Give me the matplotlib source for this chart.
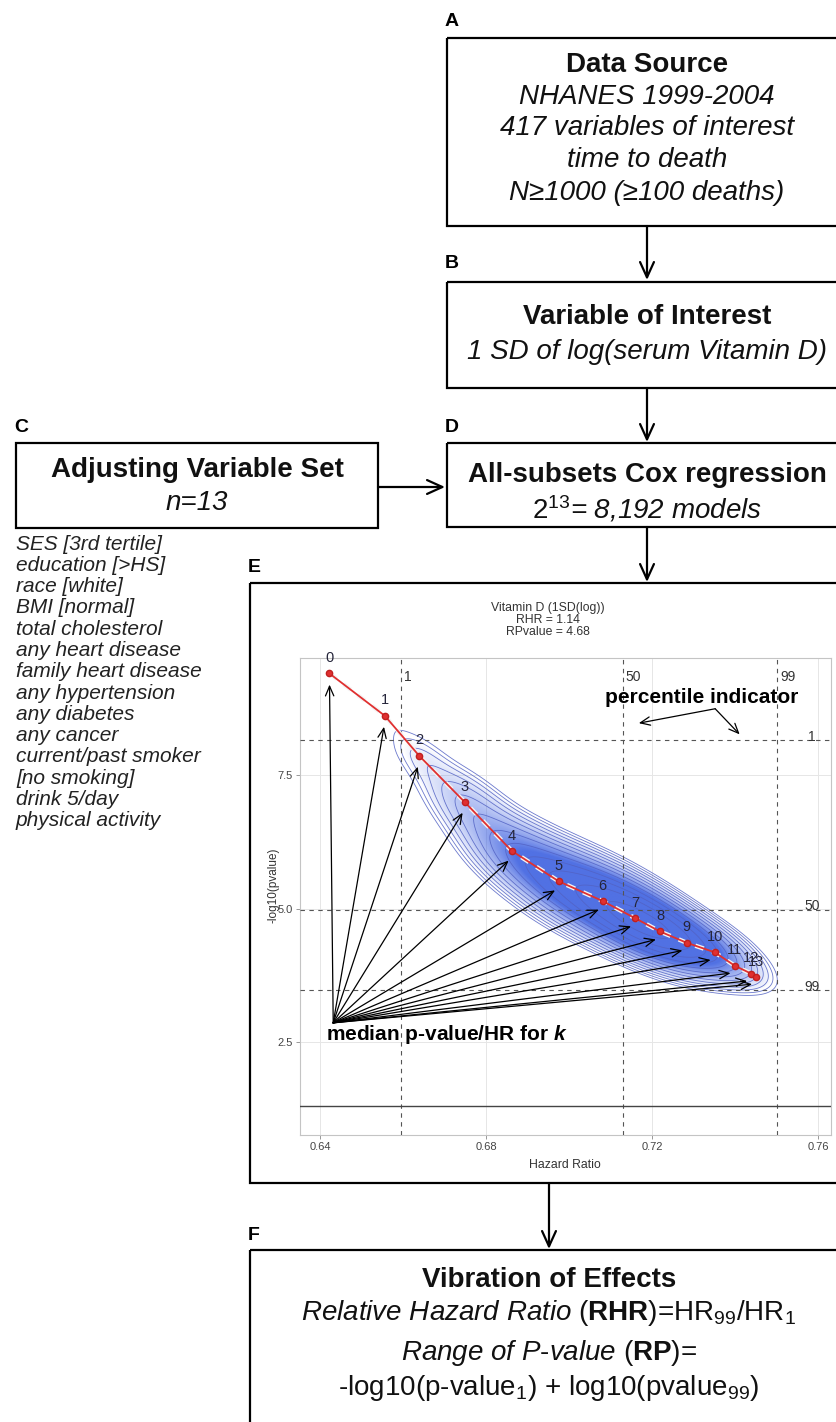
import numpy as np
import matplotlib
matplotlib.use("Agg")
import matplotlib.pyplot as plt
from matplotlib.patches import Rectangle
from matplotlib.transforms import ScaledTranslation
from matplotlib.colors import to_rgb

plt.rcParams['font.family'] = ['Liberation Sans', 'DejaVu Sans']
plt.rcParams['mathtext.fontset'] = 'custom'
plt.rcParams['mathtext.rm'] = 'Liberation Sans'
plt.rcParams['mathtext.it'] = 'Liberation Sans:italic'
plt.rcParams['mathtext.bf'] = 'Liberation Sans:bold'
if 'mathtext.bfit' in plt.rcParams:
    plt.rcParams['mathtext.bfit'] = 'Liberation Sans:italic:bold'

# ---- data for panel E ----
k_vals = list(range(14))
models_per_k = [1, 13, 78, 286, 715, 1287, 1716, 1716, 1287, 715, 286, 78, 13, 1]
median_hr = [0.6423, 0.6556, 0.6639, 0.6749, 0.6862, 0.6975, 0.7081,
             0.7159, 0.7219, 0.7283, 0.7351, 0.7399, 0.7439, 0.7451]
median_logp = [9.40, 8.61, 7.86, 6.99, 6.08, 5.51, 5.14,
               4.82, 4.57, 4.36, 4.18, 3.93, 3.78, 3.72]
# spread of the models around each median
sd_hr = [0.0, 0.004, 0.0052, 0.0065, 0.0075, 0.0078, 0.0078,
         0.0075, 0.0072, 0.0068, 0.0064, 0.006, 0.0055, 0.005]
sd_logp = [0.0, 0.28, 0.36, 0.44, 0.48, 0.48, 0.46,
           0.43, 0.40, 0.37, 0.34, 0.31, 0.28, 0.25]
hr_logp_corr = -0.55

pct_labels = ['1', '50', '99']
pct_hr = [0.6595, 0.7129, 0.7502]
pct_logp = [8.15, 4.98, 3.47]
signif_logp = 1.30

x_ticks = [0.64, 0.68, 0.72, 0.76]
x_ticklabels = ['0.64', '0.68', '0.72', '0.76']
y_ticks = [2.5, 5.0, 7.5]
y_ticklabels = ['2.5', '5.0', '7.5']

title_lines = ['Vitamin D (1SD(log))', 'RHR = 1.14', 'RPvalue = 4.68']

adjusters = ['SES [3rd tertile]', 'education [>HS]', 'race [white]', 'BMI [normal]',
             'total cholesterol', 'any heart disease', 'family heart disease',
             'any hypertension', 'any diabetes', 'any cancer', 'current/past smoker',
             '[no smoking]', 'drink 5/day', 'physical activity']

W, H = 836, 1422
fig = plt.figure(figsize=(W / 100, H / 100), dpi=100)
fig.patch.set_facecolor('white')

# ---- flowchart layer (pixel coordinates) ----
ax0 = fig.add_axes([0, 0, 1, 1])
ax0.set_xlim(0, W)
ax0.set_ylim(H, 0)
ax0.axis('off')

def box(x, y, w, h):
    ax0.add_patch(Rectangle((x, y), w, h, fill=False, lw=1.6, ec='black'))

def flow_arrow(x0, y0, x1, y1):
    ax0.annotate('', xy=(x1, y1), xytext=(x0, y0),
                 arrowprops=dict(arrowstyle='->,head_length=1.1,head_width=0.5',
                                 lw=1.6, color='black', shrinkA=0, shrinkB=0,
                                 mutation_scale=10))

def panel_letter(x, y, s):
    ax0.text(x, y, s, fontsize=14, fontweight='bold', ha='left', va='center')

txt = dict(ha='center', va='center', fontsize=20, color='#111111')

# A
panel_letter(445, 22, 'A')
box(447, 38, 400, 188)
ax0.text(647, 65, 'Data Source', fontweight='bold', **txt)
ax0.text(647, 97, 'NHANES 1999-2004', style='italic', **txt)
ax0.text(647, 128, '417 variables of interest', style='italic', **txt)
ax0.text(647, 160, 'time to death', style='italic', **txt)
ax0.text(647, 193, 'N≥1000 (≥100 deaths)', style='italic', **txt)
flow_arrow(647, 226, 647, 280)

# B
panel_letter(445, 263, 'B')
box(447, 282, 400, 106)
ax0.text(647, 317, 'Variable of Interest', fontweight='bold', **txt)
ax0.text(647, 352, '1 SD of log(serum Vitamin D)', style='italic', **txt)
flow_arrow(647, 388, 647, 442)

# D
panel_letter(445, 428, 'D')
box(447, 443, 400, 84)
ax0.text(647, 475, 'All-subsets Cox regression', fontweight='bold', **txt)
ax0.text(647, 509, r'$\mathit{2}^{\mathit{13}}$= 8,192 models', style='italic', **txt)
flow_arrow(647, 527, 647, 582)

# C
panel_letter(14, 428, 'C')
box(16, 443, 362, 85)
ax0.text(197, 470, 'Adjusting Variable Set', fontweight='bold', **txt)
ax0.text(197, 503, 'n=13', style='italic', **txt)
flow_arrow(378, 487, 445, 487)
for i, name in enumerate(adjusters):
    ax0.text(16, 544 + i * 21.3, name, style='italic', fontsize=15,
             ha='left', va='center', color='#222222')

# E
panel_letter(248, 568, 'E')
box(250, 583, 600, 600)
for i, line in enumerate(title_lines):
    ax0.text(548, 608 + i * 12, line, ha='center', va='center', fontsize=8.8, color='#333333')
ax0.text(273, 885, '-log10(pvalue)', rotation=90, ha='center', va='center',
         fontsize=8.5, color='#333333')
ax0.text(565, 1165, 'Hazard Ratio', ha='center', va='center', fontsize=8.8, color='#333333')
flow_arrow(549, 1183, 549, 1249)

# F
panel_letter(248, 1235, 'F')
box(250, 1250, 600, 200)
ax0.text(549, 1280, 'Vibration of Effects', fontweight='bold', **txt)
ax0.text(549, 1313, r'$\mathit{Relative\ Hazard\ Ratio}$ ($\mathbf{RHR}$)=HR$_{99}$/HR$_{1}$', **txt)
ax0.text(549, 1353, r'$\mathit{Range\ of\ P}$$\mathit{\text{-}value}$ ($\mathbf{RP}$)=', **txt)
ax0.text(549, 1388, r'-log10(p-value$_{1}$) + log10(pvalue$_{99}$)', **txt)

# ---- panel E: vibration plot ----
ax = fig.add_axes([300 / W, 1 - 1135 / H, 531 / W, 477 / H])
ax.set_facecolor('white')
xlo, xhi, ylo, yhi = 0.6352, 0.7631, 0.76, 9.69
ax.set_xlim(xlo, xhi)
ax.set_ylim(ylo, yhi)
ax.set_xticks(x_ticks)
ax.set_xticklabels(x_ticklabels)
ax.set_yticks(y_ticks)
ax.set_yticklabels(y_ticklabels)
ax.grid(color='#e6e6e6', lw=0.7)
ax.set_axisbelow(True)
for s in ax.spines.values():
    s.set_color('#c4c4c4')
    s.set_linewidth(0.8)
ax.tick_params(length=3, width=0.6, color='#888888', labelsize=8, labelcolor='#444444', pad=2)

# density of the 8,192 models
gx = np.linspace(xlo, xhi, 420)
gy = np.linspace(ylo, yhi, 420)
X, Y = np.meshgrid(gx, gy)
dens = np.zeros_like(X)
r = hr_logp_corr
for w, mx, my, sx, sy in zip(models_per_k, median_hr, median_logp, sd_hr, sd_logp):
    if sx == 0:
        continue
    u = (X - mx) / sx
    v = (Y - my) / sy
    q = (u * u - 2 * r * u * v + v * v) / (1 - r * r)
    dens += w / (sx * sy) * np.exp(-0.5 * q)
frac = dens / dens.max()

rgba = np.zeros(X.shape + (4,))
rgba[..., :3] = to_rgb('#3b5fe0')
rgba[..., 3] = np.clip((frac - 0.03) * 3.2, 0, 0.85) ** 0.7
ax.imshow(rgba, extent=[xlo, xhi, ylo, yhi], origin='lower', aspect='auto',
          interpolation='bilinear', zorder=1)
ax.contour(X, Y, dens, levels=dens.max() * np.geomspace(0.02, 0.85, 13),
           colors='#5262c4', linewidths=0.6, alpha=0.85, zorder=2)

# percentile reference lines
for v in pct_hr:
    ax.axvline(v, color='#555555', lw=0.8, ls=(0, (4, 4)), zorder=3)
for v in pct_logp:
    ax.axhline(v, color='#555555', lw=0.8, ls=(0, (4, 4)), zorder=3)
ax.axhline(signif_logp, color='#444444', lw=1.0, zorder=3)
for lab, v in zip(pct_labels, pct_hr):
    ax.text(v + 0.0008, 9.33, lab, ha='left', va='center', fontsize=10, color='#333333', zorder=6)
for lab, v in zip(pct_labels, pct_logp):
    ax.text(0.7585, v + 0.06, lab, ha='center', va='center', fontsize=10, color='#333333', zorder=6)

# median trajectory
ax.plot(median_hr, median_logp, color='#f4f4f4', lw=3.2, ls=(0, (2, 2)), zorder=4)
ax.plot(median_hr, median_logp, color='#e03030', lw=1.3, marker='o', ms=4.5,
        mfc='#e03030', mec='#c02020', zorder=5)
for k, hr, lp in zip(k_vals, median_hr, median_logp):
    ax.annotate(str(k), (hr, lp), xytext=(0, 11), textcoords='offset points',
                ha='center', va='center', fontsize=10.5, color='#25253a', zorder=6,
                annotation_clip=False)

# fan of arrows to the medians
fan_hr, fan_logp = 0.6432, 2.86
tip = ax.transData + ScaledTranslation(0, -5 / 72, fig.dpi_scale_trans)
for hr, lp in zip(median_hr, median_logp):
    ax.annotate('', xy=(hr, lp), xycoords=tip, xytext=(fan_hr, fan_logp), textcoords='data',
                arrowprops=dict(arrowstyle='->,head_length=0.7,head_width=0.3', lw=0.9,
                                color='black', shrinkA=0, shrinkB=3), zorder=7)
ax.text(0.6414, 2.64, r'median p-value/HR for $\mathbfit{k}$', fontsize=15,
        fontweight='bold', ha='left', va='center', zorder=8)

# percentile indicator
ax.text(0.7320, 8.95, 'percentile indicator', fontsize=15, fontweight='bold',
        ha='center', va='center', zorder=8)
apex = (0.7352, 8.74)
for end in [(0.7168, 8.47), (0.7411, 8.26)]:
    ax.annotate('', xy=end, xytext=apex,
                arrowprops=dict(arrowstyle='->,head_length=0.7,head_width=0.3', lw=0.9,
                                color='black', shrinkA=0, shrinkB=0), zorder=8)

fig.savefig('out.png', dpi=100)
